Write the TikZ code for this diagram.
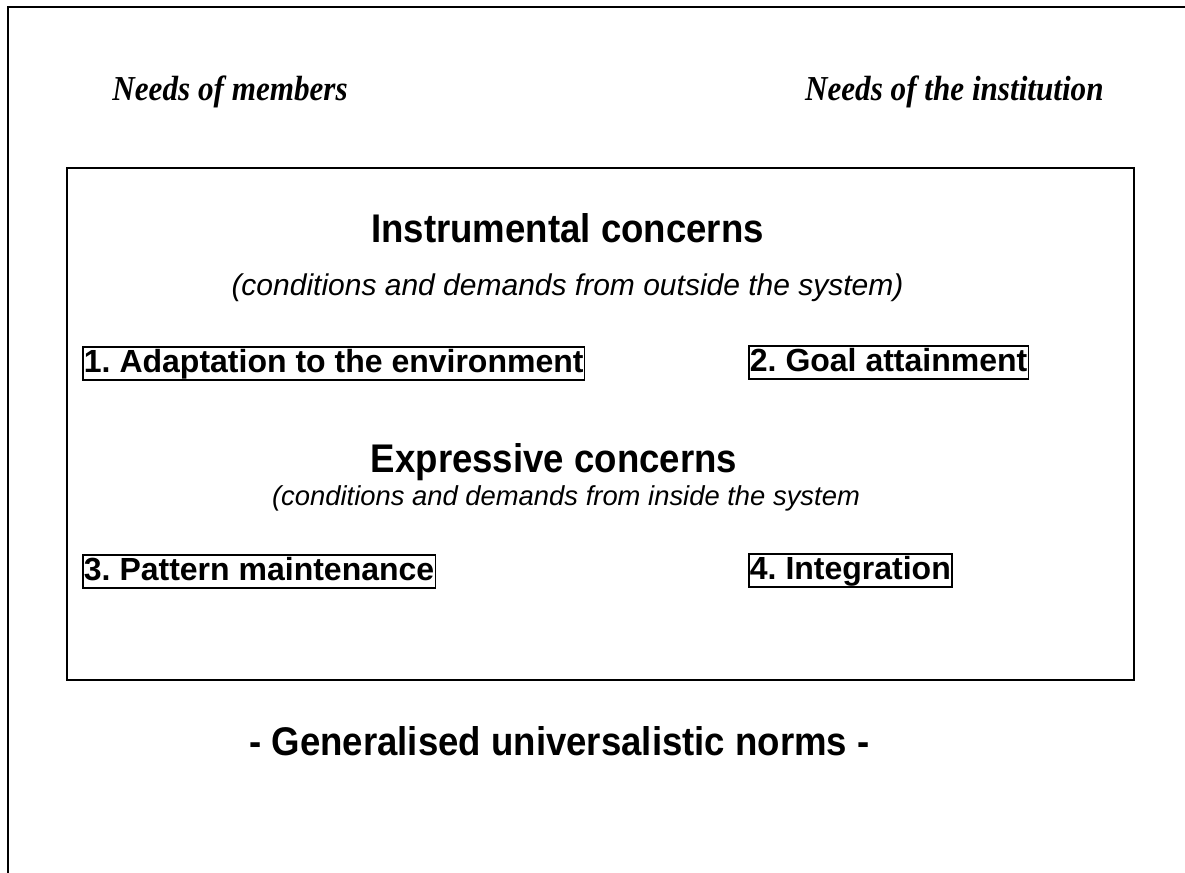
\documentclass[tikz,border=0pt]{standalone}
\usepackage{graphicx}
\usepackage{fontspec}
\setmainfont{Liberation Serif}
\setsansfont{Liberation Sans}
\frenchspacing
\newcommand{\narrowtext}[2]{\scalebox{#1}[1]{#2}}
\begin{document}
\begin{tikzpicture}[x=0.5pt,y=-0.5pt,
  need/.style={font=\fontsize{17.5pt}{20pt}\selectfont\rmfamily\bfseries\itshape, inner sep=0pt},
  heading/.style={font=\fontsize{20pt}{24pt}\selectfont\sffamily\bfseries, inner sep=0pt},
  sub/.style={font=\sffamily\itshape, inner sep=0pt},
  labelbox/.style={draw, line width=0.75pt, font=\fontsize{16pt}{19pt}\selectfont\sffamily\bfseries,
    inner xsep=0.6pt, inner ysep=0.3pt, text height=12.4pt, text depth=3.6pt, anchor=north west},
  frame/.style={line width=1pt}
]
\useasboundingbox (0,0) rectangle (1185,873);
\coordinate (ftop) at (1185,7);
\coordinate (fcorner) at (8,7);
\coordinate (fbot) at (8,873);
\draw[frame] (ftop) -- (fcorner) -- (fbot);
\node[draw, frame, minimum width=1067*0.5pt, minimum height=512*0.5pt, anchor=north west, inner sep=0pt] (panel) at (66,167) {};

\node[need, anchor=base west] (members) at (112,100) {\narrowtext{0.89}{Needs of members}};
\node[need, anchor=base east] (institution) at (1104,100) {\narrowtext{0.89}{Needs of the institution}};

\node[heading, anchor=base] (instr) at (567.5,242) {\narrowtext{0.915}{Instrumental concerns}};
\node[sub, font=\fontsize{15pt}{18pt}\selectfont\sffamily\itshape, anchor=base] (outside) at (567.5,295) {(conditions and demands from outside the system)};

\node[labelbox] (adapt) at (82,346) {1. Adaptation to the environment};
\node[labelbox] (goal) at (748,345) {2. Goal attainment};

\node[heading, anchor=base] (expr) at (554,472) {\narrowtext{0.915}{Expressive concerns}};
\node[sub, font=\fontsize{13.7pt}{16pt}\selectfont\sffamily\itshape, anchor=base] (inside) at (566,505) {(conditions and demands from inside the system};

\node[labelbox] (pattern) at (82,554) {3. Pattern maintenance};
\node[labelbox] (integ) at (748,553) {4. Integration};

\node[heading, anchor=base] (norms) at (559.5,755) {\narrowtext{0.915}{- Generalised universalistic norms -}};
\end{tikzpicture}
\end{document}
